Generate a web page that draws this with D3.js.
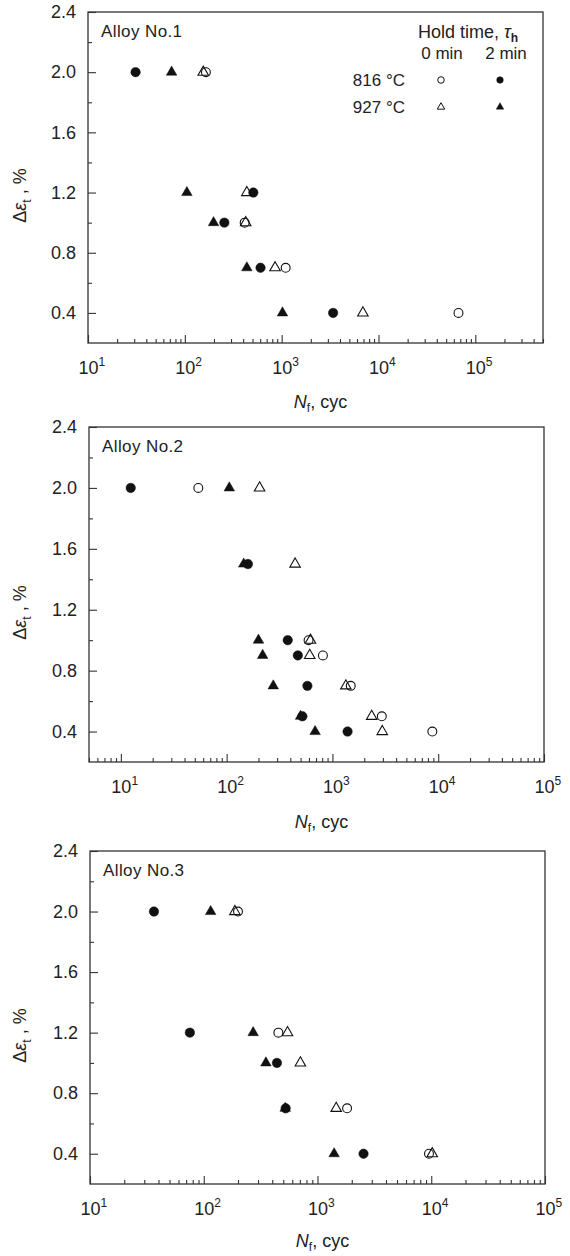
<!DOCTYPE html>
<meta charset="utf-8">
<style>
body { margin: 0; background: #fff; }
svg { font-family: "Liberation Sans", Arial, sans-serif; }
.frame { fill: none; stroke: #333; stroke-width: 1.3px; }
.axis path { display: none; }
.axis line { stroke: #333; stroke-width: 1.1px; }
.axis text { font-size: 18px; fill: #222; font-family: "Liberation Sans", Arial, sans-serif; }
.lbl { font-size: 17px; fill: #222; }
.title { font-size: 18px; fill: #222; }
</style>
<svg width="570" height="1256"></svg>
<script src="https://d3js.org/d3.v7.min.js"></script>
<script>

// tick values
var yMajor = [0.4, 0.8, 1.2, 1.6, 2.0, 2.4],
    yMinor = [0.6, 1.0, 1.4, 1.8, 2.2],
    xDecades = [10, 100, 1000, 10000, 100000];

// Alloy No.1  [Nf, strain %]
var a1_816_0 = [[165, 2.0], [415, 1.0], [1100, 0.7], [67000, 0.4]],
    a1_816_2 = [[31, 2.0], [510, 1.2], [256, 1.0], [605, 0.7], [3400, 0.4]],
    a1_927_0 = [[155, 2.0], [437, 1.2], [425, 1.0], [855, 0.7], [6900, 0.4]],
    a1_927_2 = [[73, 2.0], [105, 1.2], [198, 1.0], [437, 0.7], [1020, 0.4]];

// Alloy No.2
var a2_816_0 = [[54, 2.0], [595, 1.0], [813, 0.9], [1490, 0.7], [2930, 0.5], [8800, 0.4]],
    a2_816_2 = [[12.4, 2.0], [159, 1.5], [378, 1.0], [471, 0.9], [580, 0.7], [520, 0.5], [1390, 0.4]],
    a2_927_0 = [[205, 2.0], [444, 1.5], [620, 1.0], [610, 0.9], [1340, 0.7], [2350, 0.5], [2960, 0.4]],
    a2_927_2 = [[106, 2.0], [145, 1.5], [200, 1.0], [219, 0.9], [276, 0.7], [500, 0.5], [686, 0.4]];

// Alloy No.3
var a3_816_0 = [[200, 2.0], [453, 1.2], [1820, 0.7], [9550, 0.4]],
    a3_816_2 = [[36.5, 2.0], [75.5, 1.2], [440, 1.0], [525, 0.7], [2540, 0.4]],
    a3_927_0 = [[188, 2.0], [545, 1.2], [707, 1.0], [1460, 0.7], [10200, 0.4]],
    a3_927_2 = [[115, 2.0], [272, 1.2], [352, 1.0], [520, 0.7], [1400, 0.4]];

var svg = d3.select("svg");

var circle = d3.symbol().type(d3.symbolCircle),
    tri = d3.symbol().type(d3.symbolTriangle);

// marker look per series
function styleOf(key) {
    return {
        "816_0": { sym: circle, size: 62, filled: false },
        "816_2": { sym: circle, size: 70, filled: true },
        "927_0": { sym: tri, size: 48, filled: false },
        "927_2": { sym: tri, size: 48, filled: true }
    }[key];
}

var panels = [
    { name: "Alloy No.1", top: 12, bottom: 343, left: 88, right: 543, xDom: [10, 5e5], titleY: 402,
      series: { "816_0": a1_816_0, "927_0": a1_927_0, "816_2": a1_816_2, "927_2": a1_927_2 }, legend: true },
    { name: "Alloy No.2", top: 427, bottom: 762, left: 89, right: 544, xDom: [5, 1e5], titleY: 822,
      series: { "816_0": a2_816_0, "927_0": a2_927_0, "816_2": a2_816_2, "927_2": a2_927_2 } },
    { name: "Alloy No.3", top: 851, bottom: 1184, left: 90, right: 545, xDom: [10, 1e5], titleY: 1241,
      series: { "816_0": a3_816_0, "927_0": a3_927_0, "816_2": a3_816_2, "927_2": a3_927_2 } }
];

panels.forEach(function (p) {
    var x = d3.scaleLog().domain(p.xDom).range([p.left, p.right]),
        y = d3.scaleLinear().domain([0.2, 2.4]).range([p.bottom, p.top]);

    var g = svg.append("g");

    // y axis, ticks pointing in
    g.append("g").attr("class", "axis")
        .attr("transform", "translate(" + p.left + ",0)")
        .call(d3.axisLeft(y).tickValues(yMajor).tickSize(-8).tickPadding(12).tickFormat(d3.format(".1f")));
    g.append("g").attr("class", "axis")
        .attr("transform", "translate(" + p.left + ",0)")
        .call(d3.axisLeft(y).tickValues(yMinor).tickSize(-4).tickFormat(""));

    // x axis: decades get labels, the rest are minor
    var xa = g.append("g").attr("class", "axis")
        .attr("transform", "translate(0," + p.bottom + ")")
        .call(d3.axisBottom(x).tickValues(xDecades.filter(function (v) { return v >= p.xDom[0] && v <= p.xDom[1]; }))
            .tickSize(-8).tickFormat(""));
    xa.selectAll(".tick text").each(function (d) {
        var t = d3.select(this).attr("y", 31).attr("dy", null).attr("x", -10).attr("text-anchor", "start");
        t.append("tspan").text("10");
        t.append("tspan").attr("dy", -8).style("font-size", "12px").text(Math.round(Math.log10(d)));
    });
    g.append("g").attr("class", "axis")
        .attr("transform", "translate(0," + p.bottom + ")")
        .call(d3.axisBottom(x).tickValues(x.ticks().filter(function (v) {
            return Math.abs(Math.log10(v) - Math.round(Math.log10(v))) > 1e-6;
        })).tickSize(-4).tickFormat(""));

    g.append("rect").attr("class", "frame")
        .attr("x", p.left).attr("y", p.top)
        .attr("width", p.right - p.left).attr("height", p.bottom - p.top);

    g.append("text").attr("class", "lbl")
        .attr("x", p.left + 13).attr("y", p.top + 25)
        .style("letter-spacing", "0.4px")
        .text(p.name);

    // points
    Object.keys(p.series).forEach(function (k) {
        var s = styleOf(k);
        g.selectAll(null).data(p.series[k]).enter().append("path")
            .attr("transform", function (d) { return "translate(" + x(d[0]) + "," + y(d[1]) + ")"; })
            .attr("d", s.sym.size(s.size))
            .attr("fill", s.filled ? "#111" : "none")
            .attr("stroke", "#111")
            .attr("stroke-width", s.filled ? 0.5 : 1.1);
    });

    // axis titles
    var yt = g.append("text").attr("class", "title")
        .attr("text-anchor", "middle")
        .attr("transform", "translate(26," + ((p.top + p.bottom) / 2 + 18) + ") rotate(-90)");
    yt.append("tspan").text("\u0394");
    yt.append("tspan").style("font-style", "italic").text("\u03b5");
    yt.append("tspan").attr("dy", 5).style("font-size", "12px").text("t");
    yt.append("tspan").attr("dy", -5).text(" , %");

    var xt = g.append("text").attr("class", "title")
        .attr("text-anchor", "middle")
        .attr("x", (p.left + p.right) / 2 + 5).attr("y", p.titleY + 6);
    xt.append("tspan").style("font-style", "italic").text("N");
    xt.append("tspan").attr("dy", 4).style("font-size", "12px").text("f");
    xt.append("tspan").attr("dy", -4).text(", cyc");

    if (p.legend) {
        var lg = g.append("g").attr("class", "lbl");
        var h = lg.append("text").attr("x", 418).attr("y", 38).style("font-size", "18px");
        h.append("tspan").text("Hold time, ");
        h.append("tspan").style("font-style", "italic").text("\u03c4");
        h.append("tspan").attr("dy", 4).style("font-size", "12px").style("font-weight", "bold").text("h");
        lg.append("text").attr("x", 442).attr("y", 59).attr("text-anchor", "middle").text("0 min");
        lg.append("text").attr("x", 506).attr("y", 59).attr("text-anchor", "middle").text("2 min");
        lg.append("text").attr("x", 405).attr("y", 86).attr("text-anchor", "end").text("816 \u00b0C");
        lg.append("text").attr("x", 405).attr("y", 113).attr("text-anchor", "end").text("927 \u00b0C");
        var leg = [["816_0", 441, 80], ["816_2", 500, 80], ["927_0", 441, 107], ["927_2", 500, 107]];
        leg.forEach(function (r) {
            var s = styleOf(r[0]);
            lg.append("path")
                .attr("transform", "translate(" + r[1] + "," + r[2] + ")")
                .attr("d", s.sym.size(s.sym === circle ? 34 : 24))
                .attr("fill", s.filled ? "#111" : "none")
                .attr("stroke", "#111")
                .attr("stroke-width", s.filled ? 0.5 : 1);
        });
    }
});

</script>
